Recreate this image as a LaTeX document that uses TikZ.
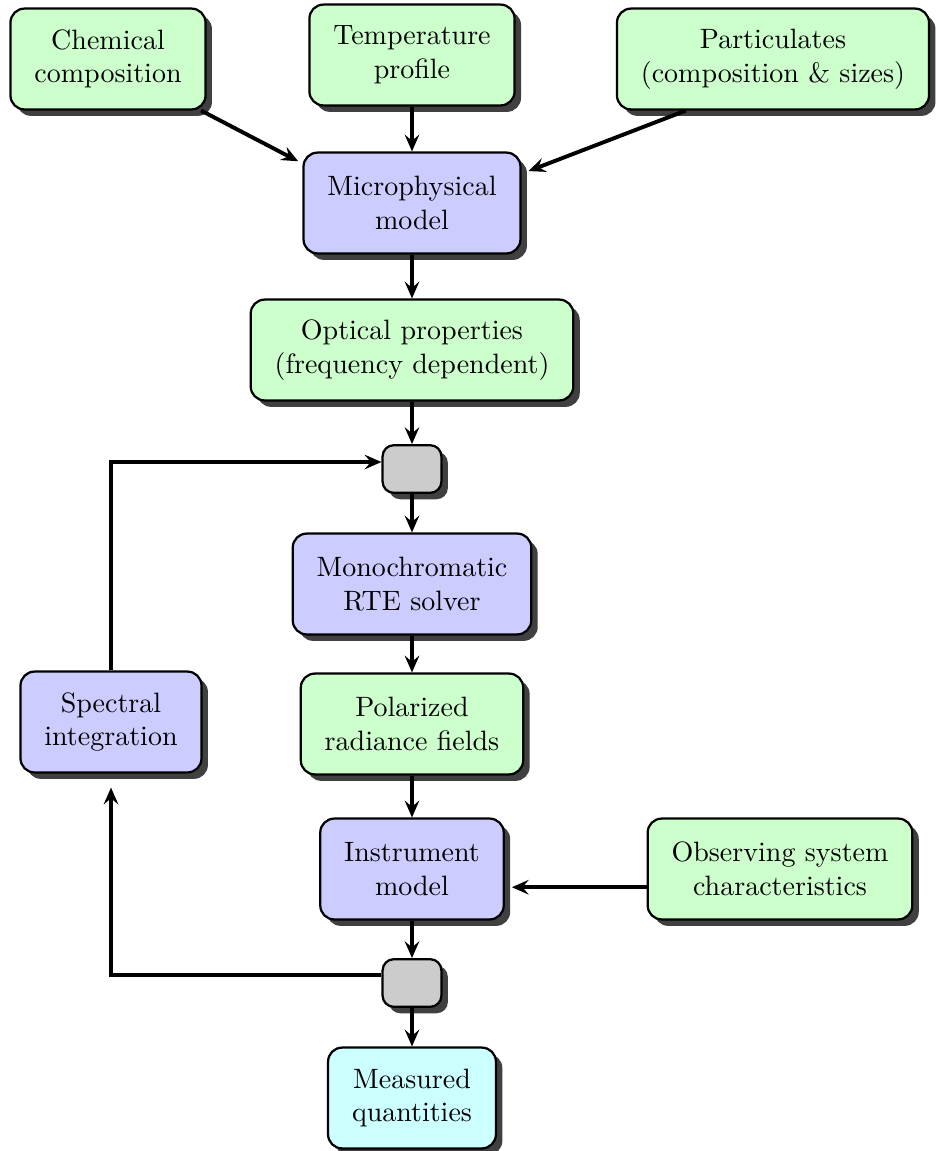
\documentclass[tikz,border=0pt]{standalone}
\usetikzlibrary{shadows,arrows.meta}
\definecolor{inputgreen}{HTML}{CCFFCC}
\definecolor{modelblue}{HTML}{CCCCFF}
\definecolor{outputcyan}{HTML}{CCFFFF}
\definecolor{junctiongray}{HTML}{CCCCCC}
\begin{document}
\begin{tikzpicture}[
        x=0.357pt, y=-0.357pt,
        box/.style={draw, thick, rounded corners=5pt, align=center, inner xsep=3mm, minimum height=36pt,
            drop shadow={shadow xshift=2.3pt, shadow yshift=-2.3pt, fill=black!75, opacity=1}},
        input/.style={box, fill=inputgreen},
        model/.style={box, fill=modelblue},
        output/.style={box, fill=outputcyan},
        junction/.style={box, fill=junctiongray, minimum width=21pt, minimum height=17pt, inner sep=0pt, rounded corners=4pt},
        flow/.style={draw, line width=1.4pt, -{Stealth[length=6pt, width=5.2pt, inset=2.2pt]}},
    ]
    \useasboundingbox (0,0) rectangle (936,1151);

    % inputs
    \node[input](chem) at (108,59){Chemical\\composition};
    \node[input](temp) at (412,55){Temperature\\profile};
    \node[input](part) at (773,59){Particulates\\(composition \& sizes)};

    % main chain
    \node[model](micro) at (412,203){Microphysical\\model};
    \node[input](optic) at (412,350){Optical properties\\(frequency dependent)};
    \node[junction](mixin) at (412,469){};
    \node[model](rte) at (412,584){Monochromatic\\RTE solver};
    \node[input](polar) at (412,724){Polarized\\radiance fields};
    \node[model](instr) at (412,869){Instrument\\model};
    \node[junction](mixout) at (412,983){};
    \node[output](meas) at (412,1098){Measured\\quantities};

    % side nodes
    \node[model](spec) at (111,722){Spectral\\integration};
    \node[input](obs) at (780,869){Observing system\\characteristics};

    \draw[flow] ([xshift=-2pt]chem.south east) -- ([xshift=-1.5pt,yshift=-3.5pt]micro.north west);
    \draw[flow] (temp) -- (micro);
    \draw[flow] ([xshift=25pt]part.south west) -- ([xshift=2.5pt,yshift=-7pt]micro.north east);
    \draw[flow] (micro) -- (optic);
    \draw[flow] (optic) -- (mixin);
    \draw[flow] (mixin) -- (rte);
    \draw[flow] (rte) -- (polar);
    \draw[flow] (polar) -- (instr);
    \draw[flow] ([yshift=-6.5pt]obs.west) -- ([xshift=2.5pt,yshift=-6.5pt]instr.east);
    \draw[flow] (instr) -- (mixout);
    \draw[flow] (mixout) -- (meas);

    % spectral loop
    \draw[flow] ([yshift=3pt]mixout.west) -| ([yshift=-5pt]spec.south);
    \draw[flow] (spec.north) |- ([yshift=2.5pt]mixin.west);

    \end{tikzpicture}
\end{document}
